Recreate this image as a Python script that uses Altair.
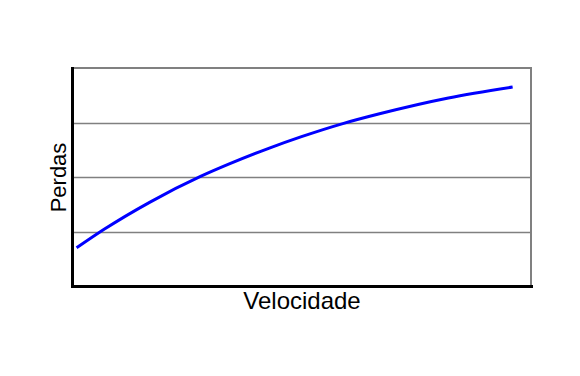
import altair as alt
import pandas as pd

velocidade = [0.1, 0.7, 1.7, 2.8, 3.4, 4.3, 5.0, 5.9, 6.7, 8.2, 9.6]
perdas = [0.70, 1.04, 1.54, 2.01, 2.23, 2.53, 2.74, 2.98, 3.16, 3.45, 3.65]
grid_values = [1, 2, 3]

df = pd.DataFrame({"Velocidade": velocidade, "Perdas": perdas})

chart = alt.Chart(df).mark_line(
    color="#0000ff", strokeWidth=3, interpolate="monotone"
).encode(
    x=alt.X("Velocidade:Q",
            scale=alt.Scale(domain=[0, 10], nice=False, zero=False),
            axis=alt.Axis(title="Velocidade", labels=False, ticks=False, grid=False,
                          domainColor="black", domainWidth=3, domainCap="square",
                          titleFont="Liberation Sans", titleFontSize=24,
                          titleFontWeight="normal", titleColor="black",
                          titleBaseline="alphabetic", titlePadding=22)),
    y=alt.Y("Perdas:Q",
            scale=alt.Scale(domain=[0, 4], nice=False, zero=False),
            axis=alt.Axis(title="Perdas", labels=False, ticks=False, grid=True,
                          values=grid_values, gridColor="#808080", gridWidth=1.5,
                          gridOpacity=1,
                          domainColor="black", domainWidth=3, domainCap="square",
                          titleFont="Liberation Sans", titleFontSize=22,
                          titleFontWeight="normal", titleColor="black",
                          titleBaseline="alphabetic", titlePadding=7)),
).properties(
    width=459, height=218,
    autosize=alt.AutoSizeParams(type="none"),
    padding={"left": 72, "top": 68, "right": 49, "bottom": 90},
).configure(
    background="white"
).configure_view(
    stroke="#808080", strokeWidth=2
)

chart.save("out.html", embed_options={"renderer": "svg", "actions": False})
